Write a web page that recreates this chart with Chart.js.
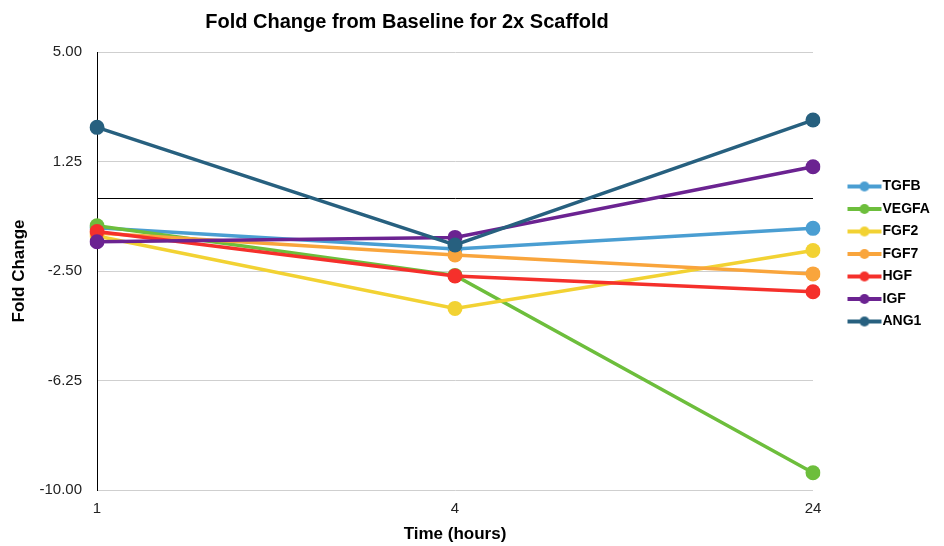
<!DOCTYPE html>
<html>
<head>
<meta charset="utf-8">
<script src="https://cdn.jsdelivr.net/npm/chart.js@4/dist/chart.umd.min.js"></script>
<style>
  body { margin: 0; background: #fff; }
  canvas { display: block; }
</style>
</head>
<body>
<canvas id="chart" width="944" height="546"></canvas>
<script>
const chartTitle = "Fold Change from Baseline for 2x Scaffold";
const timeLabels = ["1", "4", "24"];
const seriesNames = ["TGFB", "VEGFA", "FGF2", "FGF7", "HGF", "IGF", "ANG1"];
const seriesColors = ["#4a9ed2", "#6dbe3c", "#f2d233", "#f9a53c", "#f5302b", "#6b2391", "#27607f"];

const tgfb = [-1.02, -1.75, -1.04];
const vegfa = [-0.95, -2.65, -9.41];
const fgf2 = [-1.30, -3.78, -1.80];
const fgf7 = [-1.20, -1.95, -2.60];
const hgf = [-1.15, -2.67, -3.21];
const igf = [-1.50, -1.35, 1.07];
const ang1 = [2.42, -1.61, 2.67];

const seriesValues = [tgfb, vegfa, fgf2, fgf7, hgf, igf, ang1];

const fontFamily = "'Liberation Sans', Arial, sans-serif";

// little line + dot icon for the legend
function legendIcon(color) {
  const c = document.createElement("canvas");
  c.width = 36; c.height = 12;
  const g = c.getContext("2d");
  g.strokeStyle = color;
  g.lineWidth = 4;
  g.beginPath();
  g.moveTo(1, 6); g.lineTo(35, 6);
  g.stroke();
  g.fillStyle = color;
  g.beginPath();
  g.arc(18, 6, 5, 0, Math.PI * 2);
  g.fill();
  return c;
}

const datasets = seriesNames.map((name, i) => ({
  label: name,
  data: seriesValues[i],
  borderColor: seriesColors[i],
  backgroundColor: seriesColors[i],
  borderWidth: 3.5,
  pointRadius: 7.5,
  pointHoverRadius: 7.5,
  pointBorderWidth: 0,
  tension: 0,
  order: seriesNames.length - i
}));

const layoutFix = {
  id: "layoutFix",
  beforeLayout(chart) {
    const lg = chart.legend;
    if (lg && !lg._fixed) {
      const fit = lg.fit;
      lg.fit = function () { fit.call(this); this.width = 131; };
      lg._fixed = true;
    }
  },
  afterLayout(chart) {
    const lg = chart.legend;
    lg.left = 845; lg.right = 944;
    lg.top = 171; lg.bottom = 540;
  },
  afterDraw(chart) {
    const ctx = chart.ctx;
    ctx.save();
    ctx.fillStyle = "#000";
    ctx.font = "bold 20px " + fontFamily;
    ctx.textAlign = "center";
    ctx.textBaseline = "middle";
    ctx.fillText(chartTitle, 407, 22);
    ctx.restore();
  }
};

new Chart(document.getElementById("chart"), {
  type: "line",
  data: { labels: timeLabels, datasets: datasets },
  plugins: [layoutFix],
  options: {
    responsive: false,
    animation: false,
    layout: { padding: { top: 52, right: 0, bottom: 0, left: 0 } },
    plugins: {
      title: { display: false },
      tooltip: { enabled: false },
      legend: {
        position: "right",
        align: "start",
        labels: {
          usePointStyle: true,
          pointStyleWidth: 22,
          padding: 8.5,
          color: "#000",
          font: { family: fontFamily, size: 14, weight: "bold" },
          sort: (a, b) => a.datasetIndex - b.datasetIndex,
          generateLabels(chart) {
            const items = Chart.defaults.plugins.legend.labels.generateLabels(chart);
            items.forEach(it => { it.pointStyle = legendIcon(seriesColors[it.datasetIndex]); });
            return items;
          }
        }
      }
    },
    scales: {
      x: {
        offset: false,
        grid: { display: false, drawTicks: false },
        border: { display: false },
        ticks: { padding: 10, color: "#222", font: { family: fontFamily, size: 15 } },
        title: {
          display: true,
          text: "Time (hours)",
          color: "#000",
          padding: { top: 0, bottom: 1 },
          font: { family: fontFamily, size: 17, weight: "bold" }
        },
        afterFit(s) { s.height = 56; }
      },
      y: {
        min: -10,
        max: 5,
        ticks: {
          stepSize: 3.75,
          padding: 15,
          color: "#222",
          font: { family: fontFamily, size: 15 },
          callback: v => v === 0 ? "" : v.toFixed(2)
        },
        afterBuildTicks(s) {
          s.ticks.push({ value: 0 });
          s.ticks.sort((a, b) => a.value - b.value);
        },
        grid: {
          drawTicks: false,
          color: c => (c.tick && c.tick.value === 0) ? "#000" : "#cfcfcf",
          lineWidth: 1
        },
        border: { display: true, color: "#000", width: 1 },
        title: {
          display: true,
          text: "Fold Change",
          color: "#000",
          padding: { top: 9, bottom: 0 },
          font: { family: fontFamily, size: 17, weight: "bold" }
        },
        afterFit(s) { s.width = 97; }
      }
    }
  }
});
</script>
</body>
</html>
